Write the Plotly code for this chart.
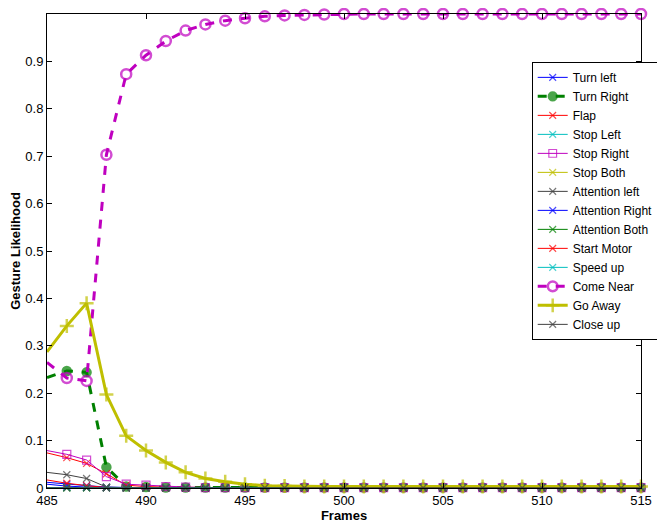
import plotly.graph_objects as go

frames = list(range(485, 516))
n = len(frames)

def tail(head, rest):
    return head + [rest] * (n - len(head))

turn_left = tail([0.012, 0.008, 0.005, 0.002], 0.0005)
turn_right = tail([0.233, 0.247, 0.244, 0.044, 0.003, 0.002, 0.001], 0.001)
flap = tail([0.074, 0.064, 0.052, 0.030, 0.006, 0.003, 0.002], 0.001)
stop_left = tail([0.001], 0.0005)
stop_right = tail([0.079, 0.071, 0.059, 0.024, 0.008, 0.006, 0.003, 0.002], 0.001)
stop_both = tail([0.001], 0.0005)
attention_left = tail([0.033, 0.028, 0.020, 0.002], 0.0005)
attention_right = tail([0.008, 0.004, 0.002], 0.0005)
attention_both = tail([0.001], 0.0005)
start_motor = tail([0.017, 0.010, 0.005, 0.001], 0.0005)
speed_up = tail([0.001], 0.001)
come_near = tail([0.265, 0.232, 0.226, 0.703, 0.873, 0.913, 0.943, 0.965, 0.978,
                  0.986, 0.991, 0.995, 0.997, 0.998, 0.999], 1.0)
go_away = tail([0.287, 0.342, 0.390, 0.197, 0.110, 0.079, 0.054, 0.033, 0.020,
                0.013, 0.008, 0.005, 0.004], 0.003)
close_up = tail([0.0005], 0.0005)

series_names = ["Turn left", "Turn Right", "Flap", "Stop Left", "Stop Right", "Stop Both",
                "Attention left", "Attention Right", "Attention Both", "Start Motor",
                "Speed up", "Come Near", "Go Away", "Close up"]
series_values = [turn_left, turn_right, flap, stop_left, stop_right, stop_both,
                 attention_left, attention_right, attention_both, start_motor,
                 speed_up, come_near, go_away, close_up]

blue = "rgb(0,0,255)"
green = "rgb(0,128,0)"
red = "rgb(255,0,0)"
cyan = "rgb(0,191,191)"
magenta = "rgb(191,0,191)"
olive = "rgb(191,191,0)"
gray = "rgb(64,64,64)"

styles = [
    dict(color=blue, width=1, dash="solid", symbol="x-thin-open", size=7),
    dict(color=green, width=3, dash="dash", symbol="circle", size=8),
    dict(color=red, width=1, dash="solid", symbol="x-thin-open", size=7),
    dict(color=cyan, width=1, dash="solid", symbol="x-thin-open", size=7),
    dict(color=magenta, width=1, dash="solid", symbol="square-open", size=8),
    dict(color=olive, width=1, dash="solid", symbol="x-thin-open", size=7),
    dict(color=gray, width=1, dash="solid", symbol="x-thin-open", size=7),
    dict(color=blue, width=1, dash="solid", symbol="x-thin-open", size=7),
    dict(color=green, width=1, dash="solid", symbol="x-thin-open", size=7),
    dict(color=red, width=1, dash="solid", symbol="x-thin-open", size=7),
    dict(color=cyan, width=1, dash="solid", symbol="x-thin-open", size=7),
    dict(color=magenta, width=3, dash="dash", symbol="circle-open", size=10),
    dict(color=olive, width=3, dash="solid", symbol="cross-thin-open", size=10),
    dict(color=gray, width=1, dash="solid", symbol="x-thin-open", size=7),
]

fig = go.Figure()
for name, vals, st in zip(series_names, series_values, styles):
    mw = 2.5 if st["width"] > 2 else 1.2
    sizes = [0] + [st["size"]] * (len(vals) - 1)
    fig.add_trace(go.Scatter(
        x=frames, y=vals, name=name, mode="lines+markers", cliponaxis=False,
        line=dict(color=st["color"], width=st["width"], dash=st["dash"]),
        marker=dict(symbol=st["symbol"], size=sizes, color=st["color"],
                    line=dict(color=st["color"], width=mw)),
    ))

axis_common = dict(showline=True, linecolor="black", linewidth=1, mirror="ticks",
                   ticks="inside", ticklen=5, tickcolor="black", showgrid=False,
                   zeroline=False, automargin=False,
                   tickfont=dict(family="Liberation Sans, Arial", size=13, color="black"))

fig.update_layout(
    width=657, height=517,
    margin=dict(l=39, r=15, t=6, b=37),
    plot_bgcolor="white", paper_bgcolor="white",
    font=dict(family="Liberation Sans, Arial", size=13, color="black"),
    xaxis=dict(range=[485, 515], tickmode="array", tickvals=list(range(485, 516, 5)),
               title=dict(text="<b>Frames</b>", standoff=0, font=dict(size=13)), **axis_common),
    yaxis=dict(range=[0, 1], tickmode="array", tickvals=[i / 10 for i in range(11)],
               ticktext=["0", "0.1", "0.2", "0.3", "0.4", "0.5", "0.6", "0.7", "0.8", "0.9", "1"],
               title=dict(text="<b>Gesture Likelihood</b>", standoff=3, font=dict(size=13)), **axis_common),
    legend=dict(x=0.816, y=0.899, xanchor="left", yanchor="top", bgcolor="white",
                bordercolor="black", borderwidth=1, font=dict(size=12),
                tracegroupgap=0, itemwidth=30),
    showlegend=True,
)

fig.write_html("out.html")
